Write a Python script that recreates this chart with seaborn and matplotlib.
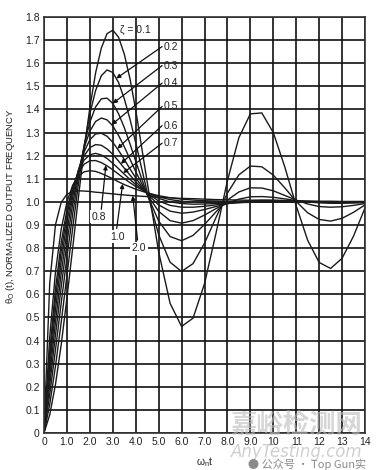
import numpy as np
import pandas as pd
import matplotlib
matplotlib.use('Agg')
import matplotlib.pyplot as plt
import seaborn as sns

# time axis (wn*t) and normalized output for each damping ratio
t_vals = [0, 0.25, 0.5, 0.75, 1.0, 1.25, 1.5, 1.75, 2.0, 2.25, 2.5, 2.75, 3.0, 3.25,
          3.5, 3.75, 4.0, 4.5, 5.0, 5.5, 6.0, 6.5, 7.0, 7.5, 8.0, 8.5, 9.0, 9.5,
          10.0, 10.5, 11.0, 11.5, 12.0, 12.5, 13.0, 13.5, 14.0]

resp_01 = [0, 0.079, 0.210, 0.382, 0.584, 0.800, 1.019, 1.226, 1.408, 1.558, 1.666, 1.728,
           1.743, 1.713, 1.640, 1.533, 1.398, 1.086, 0.784, 0.561, 0.461, 0.497, 0.646,
           0.864, 1.092, 1.278, 1.381, 1.385, 1.300, 1.152, 0.983, 0.834, 0.738, 0.712,
           0.756, 0.852, 0.974]
resp_02 = [0, 0.124, 0.289, 0.479, 0.682, 0.886, 1.076, 1.243, 1.381, 1.482, 1.546, 1.571,
           1.560, 1.517, 1.447, 1.358, 1.256, 1.042, 0.858, 0.739, 0.699, 0.733, 0.821,
           0.932, 1.038, 1.117, 1.155, 1.152, 1.116, 1.061, 1.002, 0.953, 0.924, 0.917,
           0.929, 0.955, 0.987]
resp_03 = [0, 0.167, 0.360, 0.562, 0.761, 0.947, 1.110, 1.243, 1.345, 1.411, 1.446, 1.449,
           1.426, 1.382, 1.322, 1.251, 1.176, 1.031, 0.917, 0.850, 0.832, 0.855, 0.902,
           0.957, 1.008, 1.043, 1.061, 1.060, 1.048, 1.028, 1.008, 0.991, 0.980, 0.977,
           0.979, 0.985, 0.993]
resp_04 = [0, 0.208, 0.424, 0.633, 0.824, 0.991, 1.128, 1.234, 1.306, 1.348, 1.363, 1.355,
           1.329, 1.288, 1.239, 1.185, 1.131, 1.032, 0.959, 0.919, 0.908, 0.919, 0.943,
           0.971, 0.995, 1.012, 1.022, 1.023, 1.020, 1.013, 1.006, 1.000, 0.996, 0.994,
           0.994, 0.995, 0.997]
resp_05 = [0, 0.248, 0.481, 0.692, 0.874, 1.022, 1.136, 1.217, 1.269, 1.294, 1.297, 1.284,
           1.258, 1.223, 1.184, 1.143, 1.104, 1.035, 0.987, 0.960, 0.951, 0.956, 0.967,
           0.980, 0.992, 1.001, 1.006, 1.008, 1.008, 1.006, 1.004, 1.002, 1.000, 0.999,
           0.999, 0.999, 0.999]
resp_06 = [0, 0.285, 0.534, 0.744, 0.913, 1.043, 1.137, 1.199, 1.235, 1.248, 1.245, 1.229,
           1.206, 1.177, 1.146, 1.116, 1.087, 1.038, 1.004, 0.985, 0.977, 0.977, 0.981,
           0.987, 0.993, 0.997, 1.000, 1.002, 1.002, 1.002, 1.002, 1.001, 1.001, 1.000,
           1.000, 1.000, 1.000]
resp_07 = [0, 0.320, 0.582, 0.787, 0.944, 1.057, 1.133, 1.181, 1.204, 1.210, 1.203, 1.188,
           1.167, 1.144, 1.120, 1.097, 1.075, 1.040, 1.015, 1.000, 0.993, 0.990, 0.991,
           0.993, 0.995, 0.997, 0.998, 0.999, 1.000, 1.000, 1.000, 1.000, 1.000, 1.000,
           1.000, 1.000, 1.000]
resp_08 = [0, 0.354, 0.624, 0.824, 0.967, 1.065, 1.127, 1.163, 1.178, 1.179, 1.170, 1.156,
           1.139, 1.120, 1.101, 1.083, 1.067, 1.040, 1.022, 1.010, 1.003, 0.999, 0.998,
           0.997, 0.998, 0.998, 0.999, 1.000, 1.000, 1.000, 1.000, 1.000, 1.000, 1.000,
           1.000, 1.000, 1.000]
resp_10 = [0, 0.416, 0.697, 0.882, 1.000, 1.072, 1.112, 1.130, 1.135, 1.132, 1.123, 1.112,
           1.100, 1.087, 1.075, 1.065, 1.055, 1.039, 1.027, 1.018, 1.012, 1.008, 1.005,
           1.004, 1.002, 1.002, 1.001, 1.001, 1.000, 1.000, 1.000, 1.000, 1.000, 1.000,
           1.000, 1.000, 1.000]
resp_20 = [0, 0.649, 0.901, 0.998, 1.033, 1.045, 1.048, 1.047, 1.045, 1.042, 1.040, 1.037,
           1.035, 1.032, 1.030, 1.028, 1.026, 1.023, 1.020, 1.018, 1.015, 1.014, 1.012,
           1.010, 1.009, 1.008, 1.007, 1.006, 1.005, 1.005, 1.004, 1.004, 1.003, 1.003,
           1.002, 1.002, 1.002]

zeta_names = ['0.1', '0.2', '0.3', '0.4', '0.5', '0.6', '0.7', '0.8', '1.0', '2.0']
responses = [resp_01, resp_02, resp_03, resp_04, resp_05, resp_06, resp_07, resp_08,
             resp_10, resp_20]

x_ticklabels = ['0', '1.0', '2.0', '3.0', '4.0', '5.0', '6.0', '7.0', '8.0', '9.0',
                '10', '11', '12', '13', '14']
y_ticklabels = ['0', '0.1', '0.2', '0.3', '0.4', '0.5', '0.6', '0.7', '0.8', '0.9', '1.0',
                '1.1', '1.2', '1.3', '1.4', '1.5', '1.6', '1.7', '1.8']

df = pd.concat([pd.DataFrame({'t': t_vals, 'y': r, 'zeta': z})
                for z, r in zip(zeta_names, responses)], ignore_index=True)

sns.set_theme(style='white')
plt.rcParams['font.family'] = ['Liberation Sans Narrow', 'Liberation Sans', 'DejaVu Sans']
plt.rcParams['mathtext.fontset'] = 'custom'
plt.rcParams['mathtext.rm'] = 'Liberation Sans'

fig = plt.figure(figsize=(3.81, 4.70), dpi=100)
ax = fig.add_axes([0.1155, 0.0787, 0.8425, 0.8851])

sns.lineplot(data=df, x='t', y='y', units='zeta', estimator=None, sort=False,
             color='#1a1a1a', lw=1.0, ax=ax, legend=False)

ax.set_xlim(0, 14)
ax.set_ylim(0, 1.8)
ax.set_xticks(range(15))
ax.set_xticklabels(x_ticklabels)
ax.set_yticks(np.arange(19) / 10)
ax.set_yticklabels(y_ticklabels)
ax.grid(True, color='#111111', lw=1.2)
ax.set_axisbelow(True)
ax.tick_params(length=0, labelsize=7.5, pad=3, colors='#222222')
for s in ax.spines.values():
    s.set_color('#333333')
    s.set_linewidth(1.2)

ax.set_xlabel(r'$\mathregular{\omega_n t}$', fontsize=7.5, color='#222222', va='center')
ax.xaxis.set_label_coords(0.5, -0.07)
ax.set_ylabel(r'$\mathregular{\theta_O}$ (t), NORMALIZED OUTPUT FREQUENCY',
              fontsize=6.8, color='#222222', va='center')
ax.yaxis.set_label_coords(-0.105, 0.545)

# damping-ratio labels with arrows pointing to the curves
ax.text(3.3, 1.745, 'ζ = 0.1', fontsize=7.5, va='center', ha='left', color='#222222')
upper = [('0.2', 1.672, 3.15), ('0.3', 1.59, 3.0), ('0.4', 1.514, 2.95),
         ('0.5', 1.413, 3.2), ('0.6', 1.33, 3.35), ('0.7', 1.254, 3.45)]
for name, ly, tip_t in upper:
    r = responses[zeta_names.index(name)]
    tip_y = np.interp(tip_t, t_vals, r)
    ax.annotate('', xy=(tip_t, tip_y), xytext=(5.15, ly),
                arrowprops=dict(arrowstyle='-|>', color='#111111', lw=0.9,
                                mutation_scale=6, shrinkA=0, shrinkB=0))
    ax.text(5.22, ly, name, fontsize=7.5, va='center', ha='left', color='#222222')

lower = [('0.8', 2.4, 0.935, 2.5, 0.968, 2.7), ('1.0', 3.2, 0.85, 3.17, 0.885, 3.43),
         ('2.0', 4.13, 0.80, 4.08, 0.835, 3.87)]
for name, lx, ly, ax0, ay0, tip_t in lower:
    r = responses[zeta_names.index(name)]
    tip_y = np.interp(tip_t, t_vals, r)
    ax.annotate('', xy=(tip_t, tip_y), xytext=(ax0, ay0),
                arrowprops=dict(arrowstyle='-|>', color='#111111', lw=0.9,
                                mutation_scale=6, shrinkA=0, shrinkB=0))
    ax.text(lx, ly, name, fontsize=7.5, va='center', ha='center', color='#222222',
            bbox=dict(boxstyle='square,pad=0.15', fc='white', ec='none'))

# watermark
cjk = ['Noto Sans CJK SC', 'DejaVu Sans']
fig.text(296 / 381, 1 - 425 / 470, '嘉峪检测网', fontsize=19, ha='center', va='center',
         color='#bbbbbb', alpha=0.6, family=cjk, weight='bold')
fig.text(297 / 381, 1 - 452 / 470, 'AnyTesting.com', fontsize=12, ha='center', va='center',
         color='#bbbbbb', alpha=0.7, style='italic', family=['DejaVu Sans'])
fig.text(248 / 381, 1 - 464 / 470, '● 公众号 · Top Gun实', fontsize=8, ha='left', va='center',
         color='#8a8a8a', family=cjk)

fig.savefig('out.png', dpi=100)
